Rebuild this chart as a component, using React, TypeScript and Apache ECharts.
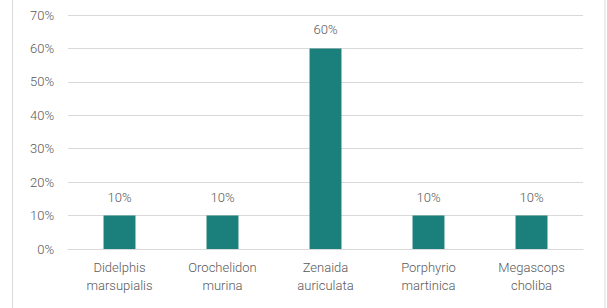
import React, { useEffect, useRef } from "react";
import * as echarts from "echarts";

const categories = [
  "Didelphis\nmarsupialis",
  "Orochelidon\nmurina",
  "Zenaida\nauriculata",
  "Porphyrio\nmartinica",
  "Megascops\ncholiba",
];
const values = [10, 10, 60, 10, 10];

export default function App() {
  const ref = useRef<HTMLDivElement>(null);
  useEffect(() => {
    const chart = echarts.init(ref.current!, null, { renderer: "svg" });
    const font = "Roboto, 'Noto Sans', sans-serif";
    const fw = 300;
    const fs = 13;
    chart.setOption({
      animation: false,
      backgroundColor: "#ffffff",
      textStyle: { fontFamily: font },
      graphic: [
        {
          type: "rect",
          shape: { x: 12.5, y: -5, width: 592.5, height: 320 },
          style: { fill: "none", stroke: "#d9d9d9", lineWidth: 1 },
          silent: true,
        },
      ],
      grid: { left: 68, right: 24, top: 15, bottom: 59 },
      xAxis: {
        type: "category",
        data: categories,
        axisLine: { lineStyle: { color: "#d9d9d9", width: 1 } },
        axisTick: { show: false },
        axisLabel: {
          color: "#595959",
          fontSize: fs,
          fontWeight: fw,
          fontFamily: font,
          lineHeight: 18,
          margin: 9,
        },
      },
      yAxis: {
        type: "value",
        min: 0,
        max: 70,
        interval: 10,
        axisLine: { show: false },
        axisTick: { show: false },
        splitLine: { lineStyle: { color: "#d9d9d9", width: 1 } },
        axisLabel: {
          color: "#595959",
          fontSize: fs,
          fontWeight: fw,
          fontFamily: font,
          margin: 14,
          formatter: "{value}%",
        },
      },
      series: [
        {
          type: "bar",
          data: values,
          barWidth: "31%",
          itemStyle: { color: "#1b7f7b" },
          label: {
            show: true,
            position: "top",
            distance: 12,
            color: "#595959",
            fontSize: fs,
            fontWeight: fw,
            fontFamily: font,
            formatter: "{c}%",
          },
        },
      ],
    });
    return () => chart.dispose();
  }, []);
  return (
    <div
      ref={ref}
      style={{ position: "fixed", left: 0, top: 0, width: 607, height: 308 }}
    />
  );
}
